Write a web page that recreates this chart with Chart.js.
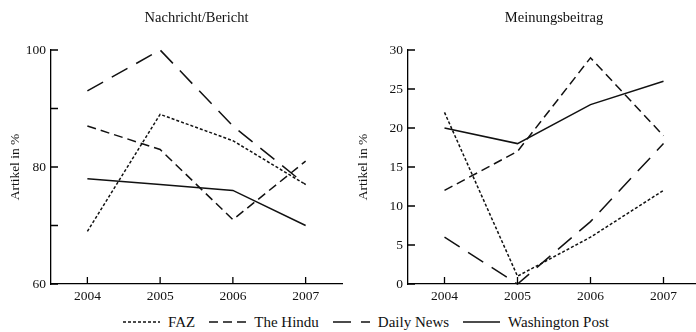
<!DOCTYPE html>
<html>
<head>
<meta charset="utf-8">
<script src="https://cdn.jsdelivr.net/npm/chart.js@4.4.1/dist/chart.umd.min.js"></script>
<style>
body { margin: 0; width: 696px; height: 332px; background: #fff; overflow: hidden; font-family: "Liberation Serif", serif; }
.panel { position: absolute; top: 0; height: 306px; }
#left { left: 0; width: 348px; }
#right { left: 348px; width: 352px; }
#legend { position: absolute; top: 312px; left: 0; width: 580px; height: 20px; padding-left: 116px; display: flex; justify-content: flex-start; align-items: center; font-size: 15px; color: #111; }
#legend .item { display: flex; align-items: center; margin: 0 7px; white-space: nowrap; }
#legend svg { margin-right: 8px; }
</style>
</head>
<body>
<div class="panel" id="left"><canvas id="chartNachricht"></canvas></div>
<div class="panel" id="right"><canvas id="chartMeinung"></canvas></div>
<div id="legend"></div>

<script>
// Jahre
const years = ['2004', '2005', '2006', '2007'];

// Nachricht/Bericht (Artikel in %)
const nachrichtFAZ = [69, 89, 84.5, 77];
const nachrichtHindu = [87, 83, 71, 81];
const nachrichtDaily = [93, 100, 87, 77];
const nachrichtWP = [78, 77, 76, 70];

// Meinungsbeitrag (Artikel in %)
const meinungFAZ = [22, 1, 6, 12];
const meinungHindu = [12, 17, 29, 19];
const meinungDaily = [6, 0, 8, 18];
const meinungWP = [20, 18, 23, 26];

// Serien: Name + Strichmuster
const series = [
    { name: 'FAZ', dash: [3, 2] },
    { name: 'The Hindu', dash: [9, 5] },
    { name: 'Daily News', dash: [18, 10] },
    { name: 'Washington Post', dash: [] }
];

const serif = '"Liberation Serif", "DejaVu Serif", serif';

// kleine Striche nach innen an den Achsen
const innerTicks = {
    id: 'innerTicks',
    afterDraw(chart) {
        const ctx = chart.ctx;
        const xs = chart.scales.x, ys = chart.scales.y;
        const area = chart.chartArea;
        ctx.save();
        ctx.strokeStyle = '#000';
        ctx.lineWidth = 1.3;
        ctx.setLineDash([]);
        ctx.beginPath();
        ys.ticks.forEach(t => {
            const y = ys.getPixelForValue(t.value);
            ctx.moveTo(area.left, y);
            ctx.lineTo(area.left + 7, y);
        });
        xs.ticks.forEach(t => {
            const x = xs.getPixelForValue(t.value);
            ctx.moveTo(x, area.bottom);
            ctx.lineTo(x, area.bottom - 7);
        });
        ctx.stroke();
        ctx.restore();
    }
};

function makeChart(id, title, data, yMin, yMax, yStep, labelEvery, yWidth, padRight) {
    const ctx = document.getElementById(id).getContext('2d');
    return new Chart(ctx, {
        type: 'line',
        data: {
            labels: years,
            datasets: series.map((s, i) => ({
                label: s.name,
                data: data[i],
                borderColor: '#111',
                borderWidth: 1.5,
                borderDash: s.dash,
                pointRadius: 0,
                tension: 0,
                fill: false,
                clip: false
            }))
        },
        options: {
            responsive: true,
            maintainAspectRatio: false,
            animation: false,
            layout: { padding: { top: 0, left: 0, right: padRight, bottom: 0 } },
            plugins: {
                legend: { display: false },
                tooltip: { enabled: false },
                title: {
                    display: true,
                    fullSize: false,
                    text: title,
                    color: '#111',
                    font: { family: serif, size: 14.5, weight: 'normal' },
                    padding: { top: 9, bottom: 23.6 }
                }
            },
            scales: {
                x: {
                    offset: true,
                    grid: { display: false, drawTicks: false },
                    border: { display: true, color: '#000', width: 1.3 },
                    ticks: { color: '#111', font: { family: serif, size: 13.5 }, padding: 4 },
                    afterFit(scale) { scale.height = 22; }
                },
                y: {
                    min: yMin,
                    max: yMax,
                    grid: { display: false, drawTicks: false },
                    border: { display: true, color: '#000', width: 1.3 },
                    ticks: {
                        stepSize: yStep,
                        color: '#111',
                        font: { family: serif, size: 13.5 },
                        padding: 5,
                        callback: v => (v - yMin) % labelEvery === 0 ? v : ''
                    },
                    title: {
                        display: true,
                        text: 'Artikel in %',
                        color: '#111',
                        font: { family: serif, size: 13.5 },
                        padding: { top: 7, bottom: 0 }
                    },
                    afterFit(scale) { scale.width = yWidth; }
                }
            }
        },
        plugins: [innerTicks]
    });
}

makeChart('chartNachricht', 'Nachricht/Bericht',
    [nachrichtFAZ, nachrichtHindu, nachrichtDaily, nachrichtWP], 60, 100, 10, 20, 51, 6);
makeChart('chartMeinung', 'Meinungsbeitrag',
    [meinungFAZ, meinungHindu, meinungDaily, meinungWP], 0, 30, 5, 5, 60, 0);

// Legende
const legend = document.getElementById('legend');
series.forEach(s => {
    const item = document.createElement('div');
    item.className = 'item';
    item.innerHTML = '<svg width="37" height="4"><line x1="0" y1="2" x2="37" y2="2" stroke="#111" stroke-width="1.5"' +
        (s.dash.length ? ' stroke-dasharray="' + s.dash.join(',') + '"' : '') + '/></svg><span>' + s.name + '</span>';
    legend.appendChild(item);
});
</script>
</body>
</html>
